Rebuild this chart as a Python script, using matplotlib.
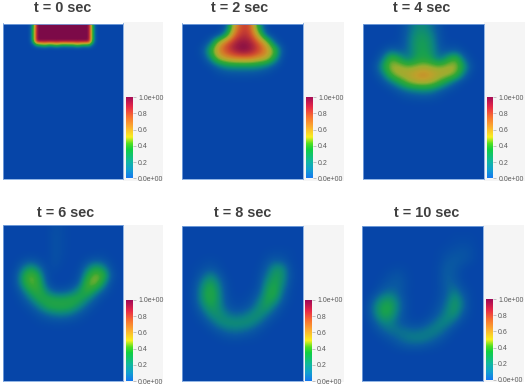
# Six snapshots of a sinking scalar plume, values read by eye on coarse grids
import numpy as np
import matplotlib
matplotlib.use('Agg')
import matplotlib.pyplot as plt
from matplotlib.colors import LinearSegmentedColormap

W=528
H=387

titles=['t = 0 sec','t = 2 sec','t = 4 sec','t = 6 sec','t = 8 sec','t = 10 sec']
tick_values=[0,0.2,0.4,0.6,0.8,1.0]
tick_labels=['0.0e+00','0.2','0.4','0.6','0.8','1.0e+00']

# values in hundredths, top rows only, everything below is zero
field_0=[
[0,0,0,0,0,0,0,22,100,100,100,100,100,100,100,100,100,100,100,100,100,100,22,0,0,0,0,0,0,0],
[0,0,0,0,0,0,0,25,100,100,100,100,100,100,100,100,100,100,100,100,100,100,25,0,0,0,0,0,0,0],
[0,0,0,0,0,0,0,25,100,100,100,100,100,100,100,100,100,100,100,100,100,100,25,0,0,0,0,0,0,0],
[0,0,0,0,0,0,0,25,100,100,100,100,100,100,100,100,100,100,100,100,100,100,25,0,0,0,0,0,0,0],
[0,0,0,0,0,0,0,25,100,100,100,100,100,100,100,100,100,100,100,100,100,100,25,0,0,0,0,0,0,0],
[0,0,0,0,0,0,0,5,25,28,36,25,28,38,25,25,28,25,38,28,25,28,8,0,0,0,0,0,0,0],
]
field_2=[
[0,0,0,0,0,4,58,82,78,26,0,0,0,0,0],
[0,0,0,0,0,22,72,86,82,48,4,0,0,0,0],
[0,0,0,8,50,76,90,96,92,76,52,8,0,0,0],
[0,0,4,32,66,80,92,100,95,82,66,42,4,0,0],
[0,0,1,18,50,62,68,70,70,62,56,28,1,0,0],
[0,0,0,2,12,20,22,22,22,20,14,5,0,0,0],
[0,0,0,0,2,4,5,5,5,4,2,0,0,0,0],
]
field_4=[
[0,0,0,0,1,8,18,20,13,4,0,0,0,0,0],
[0,0,0,0,1,10,22,25,18,5,0,0,0,0,0],
[0,0,0,1,2,11,24,27,21,6,1,1,0,0,0],
[0,0,4,13,8,11,24,28,22,8,7,9,2,0,0],
[0,1,14,42,30,14,26,32,26,12,28,42,12,1,0],
[0,4,26,50,50,44,46,50,46,44,50,50,26,4,0],
[0,2,14,40,52,54,60,66,60,54,52,42,14,1,0],
[0,0,4,14,28,44,52,54,50,38,22,8,1,0,0],
[0,0,0,2,8,14,18,20,18,10,4,1,0,0,0],
[0,0,0,0,1,3,4,5,4,2,0,0,0,0,0],
]
field_6=[
[0,0,0,0,0,0,4,2,0,0,0,0,0,0,0],
[0,0,0,0,0,0,5,2,0,0,0,0,0,0,0],
[0,0,0,0,0,0,5,2,0,0,0,0,0,0,0],
[0,0,0,0,0,0,5,2,0,0,0,0,1,0,0],
[0,0,3,6,3,0,5,1,0,0,3,7,5,1,0],
[0,1,14,25,14,1,3,0,0,1,14,28,22,4,0],
[0,3,26,46,28,3,0,0,0,3,27,48,38,8,0],
[0,3,24,44,34,6,0,0,1,8,40,48,24,3,0],
[0,1,12,30,36,18,7,7,11,24,38,22,8,1,0],
[0,0,5,16,30,32,30,29,32,32,20,8,1,0,0],
[0,0,1,6,16,28,32,32,29,19,8,2,0,0,0],
[0,0,0,1,5,10,14,15,12,6,2,0,0,0,0],
[0,0,0,0,1,2,3,3,2,1,0,0,0,0,0],
]
field_8=[
[0,0,0,0,0,0,0,0,0,0,0,0,0,0,0],
[0,0,0,0,0,0,0,0,0,0,0,0,0,0,0],
[0,0,0,0,0,0,0,0,0,0,0,0,0,0,0],
[0,0,0,0,0,0,0,0,0,0,1,2,2,1,0],
[0,0,1,2,1,0,0,0,0,0,4,8,6,1,0],
[0,1,3,6,3,0,0,0,0,1,8,22,20,3,0],
[0,1,9,19,10,1,0,0,0,2,14,27,22,4,0],
[0,3,17,29,17,3,0,0,0,3,21,30,19,3,0],
[0,4,21,34,21,4,0,0,1,6,26,33,13,1,0],
[0,4,21,33,22,5,1,1,3,13,29,27,8,1,0],
[0,2,15,27,22,8,3,3,8,20,27,13,3,0,0],
[0,1,7,19,23,16,11,13,19,23,14,5,1,0,0],
[0,0,2,9,18,22,22,22,21,14,5,1,0,0,0],
[0,0,0,2,7,12,14,13,9,4,1,0,0,0,0],
[0,0,0,0,1,3,4,3,2,1,0,0,0,0,0],
]
field_10=[
[0,0,0,0,0,0,0,0,0,0,0,0,0,0,0],
[0,0,0,0,0,0,0,0,0,0,0,1,1,1,0],
[0,0,0,0,0,0,0,0,0,0,1,2,3,2,0],
[0,0,0,0,0,0,0,0,0,1,3,5,6,4,0],
[0,0,0,0,0,0,0,0,0,1,6,8,6,3,0],
[0,0,0,1,2,1,0,0,0,2,9,7,2,0,0],
[0,0,1,4,6,2,0,0,0,2,10,6,1,0,0],
[0,0,3,7,8,3,0,0,0,2,10,9,2,0,0],
[0,1,9,12,9,2,0,0,0,2,9,16,6,1,0],
[0,9,21,24,13,3,0,0,0,3,11,24,12,1,0],
[1,15,29,30,16,3,0,0,1,5,15,26,13,1,0],
[1,13,28,27,12,3,0,0,2,9,19,22,7,1,0],
[0,7,17,18,9,4,2,3,9,17,19,10,2,0,0],
[0,2,9,14,14,13,11,13,17,17,9,2,0,0,0],
[0,0,2,6,11,15,17,17,14,8,3,0,0,0,0],
[0,0,0,1,4,7,8,7,4,2,0,0,0,0,0],
]

fields=[field_0,field_2,field_4,field_6,field_8,field_10]
nrows=[39,20,20,20,20,20]

# pixel boxes in the picture: x0,x1,y0,y1
field_box=[(3,123,23.5,179),(182,303,23.5,179),(363,484,24,179),
           (3,123,225.5,381),(182,303,226,381),(362,483,226,381)]
bar_box=[(126,132.5,97,178.5),(306,312.5,97,178.5),(487,493,97,178.5),
         (126,132.5,300,381),(305,311.5,300,381),(486,492.5,299,380)]
back_box=[(123,163,22,181),(303,344,22,181),(484,525,22,181),
          (123,163,225,382),(303,344,225,382),(483,524,225,382)]
title_x=[63,240,422,65.5,243,427]
title_y=[8,8,8,213,213,213]

field_cmap=LinearSegmentedColormap.from_list('field',[
    (0.0,'#0645a8'),(0.08,'#0a5aa2'),(0.17,'#0c8284'),(0.27,'#18a050'),(0.37,'#34a834'),
    (0.47,'#98ae30'),(0.57,'#c0a02c'),(0.68,'#d47a28'),(0.8,'#cc4430'),(0.92,'#a01c40'),(1.0,'#7c0a48')])
bar_cmap=LinearSegmentedColormap.from_list('bar',[
    (0.0,'#1478f0'),(0.1,'#12a0d0'),(0.2,'#10b8a0'),(0.35,'#10d040'),(0.42,'#50e020'),
    (0.5,'#f8f020'),(0.62,'#fcb030'),(0.75,'#f87030'),(0.87,'#e82848'),(1.0,'#a00858')])

plt.rcParams['font.family']=['Liberation Sans','DejaVu Sans']

def px_axes(fig,box):
    x0,x1,y0,y1=box
    return fig.add_axes([x0/W,1-y1/H,(x1-x0)/W,(y1-y0)/H])

fig=plt.figure(figsize=(W/100,H/100),dpi=100,facecolor='white')

for i in range(6):
    # light panel behind the colour bar
    back=px_axes(fig,back_box[i])
    back.set_facecolor('#f5f5f5')
    back.set_xticks([])
    back.set_yticks([])
    for s in back.spines.values():
        s.set_visible(False)

    rows=np.array(fields[i],dtype=float)/100
    grid=np.zeros((nrows[i],rows.shape[1]))
    grid[:rows.shape[0]]=rows

    ax=px_axes(fig,field_box[i])
    ax.imshow(grid,cmap=field_cmap,vmin=0,vmax=1,aspect='auto',interpolation='bicubic')
    ax.set_xticks([])
    ax.set_yticks([])
    for s in ax.spines.values():
        s.set_color('#7fa8e0')
        s.set_linewidth(0.6)

    cax=px_axes(fig,bar_box[i])
    cax.imshow(np.linspace(1,0,256)[:,None],cmap=bar_cmap,vmin=0,vmax=1,aspect='auto',extent=[0,1,0,1])
    cax.set_xticks([])
    cax.yaxis.tick_right()
    cax.set_yticks(tick_values)
    cax.set_yticklabels(tick_labels,fontsize=5,color='#5a5a5a')
    cax.tick_params(axis='y',length=2.5,width=0.4,color='#999999',pad=1.5)
    for s in cax.spines.values():
        s.set_visible(False)

    fig.text(title_x[i]/W,1-title_y[i]/H,titles[i],fontsize=10.4,fontweight='bold',color='#404040',ha='center',va='center')

fig.savefig('out.png',dpi=100)
